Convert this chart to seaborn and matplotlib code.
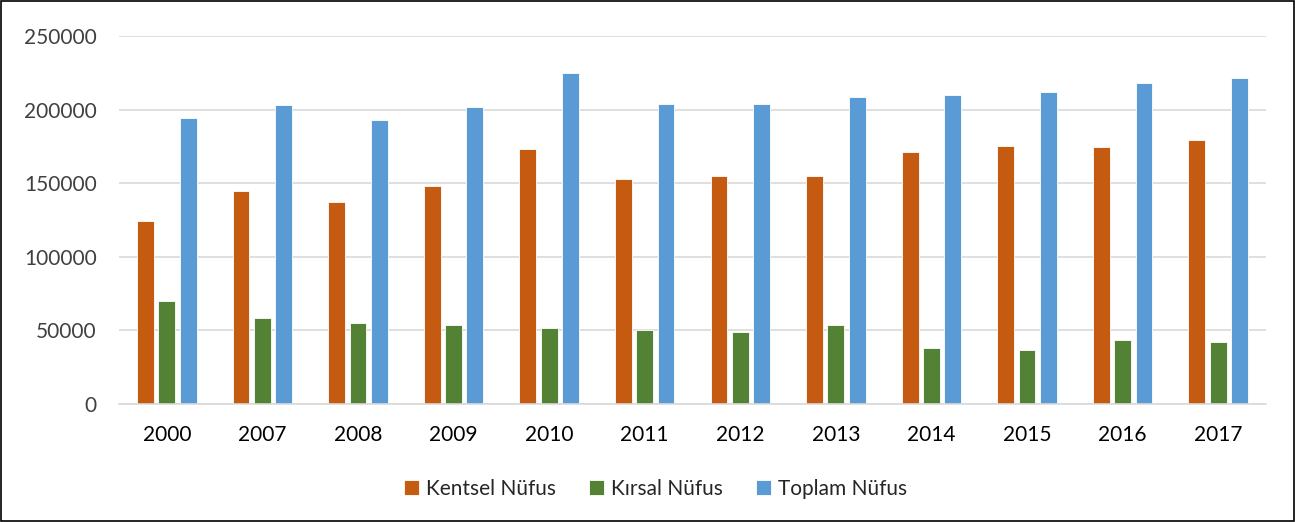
import numpy as np
import pandas as pd
import matplotlib
matplotlib.use("Agg")
import matplotlib.pyplot as plt
from matplotlib.patches import Rectangle
import seaborn as sns

# veriler (grafikten okunmuş yaklaşık değerler)
years = ["2000", "2007", "2008", "2009", "2010", "2011",
         "2012", "2013", "2014", "2015", "2016", "2017"]
kentsel = [124200, 145000, 137300, 148200, 173300, 152700,
           155000, 155000, 171200, 175100, 174600, 179200]
kirsal = [69700, 58600, 55200, 53400, 51800, 50400,
          49100, 53800, 38200, 36900, 43700, 42300]
toplam = [194100, 203400, 193000, 202000, 225100, 203600,
          203800, 208600, 209700, 212200, 218100, 221400]
series_names = ["Kentsel Nüfus", "Kırsal Nüfus", "Toplam Nüfus"]
colors = ["#C55A11", "#548235", "#5B9BD5"]

df = pd.DataFrame({
    "yil": years * 3,
    "deger": kentsel + kirsal + toplam,
    "seri": [s for s in series_names for _ in years],
})

sns.set_theme(style="white")
plt.rcParams["font.family"] = ["Lato", "DejaVu Sans"]

fig = plt.figure(figsize=(12.95, 5.22), dpi=100)
ax = fig.add_axes([0.0919, 0.226, 0.8857, 0.705])

sns.barplot(data=df, x="yil", y="deger", hue="seri", palette=colors,
            saturation=1, width=0.67, gap=0.21, ax=ax,
            edgecolor="white", linewidth=0.6, errorbar=None)

ax.set_ylim(0, 250000)
ax.set_yticks(np.arange(0, 250001, 50000))
ax.set_yticklabels([str(v) for v in range(0, 250001, 50000)])
ax.yaxis.grid(True, color="#D9D9D9", linewidth=1.2)
ax.set_axisbelow(True)
ax.set_xlim(-0.5, len(years) - 0.5)
for side in ["top", "right", "left"]:
    ax.spines[side].set_visible(False)
ax.spines["bottom"].set_color("#D9D9D9")
ax.spines["bottom"].set_linewidth(1.2)
ax.set_xlabel("")
ax.set_ylabel("")
ax.tick_params(axis="both", length=0, labelsize=15, colors="#404040")
ax.tick_params(axis="x", pad=15)
ax.tick_params(axis="y", pad=16)
for lbl in ax.get_xticklabels():
    lbl.set_color("#000000")

ax.legend(loc="center", bbox_to_anchor=(0.468, -0.23), ncol=3, frameon=False,
          fontsize=15, handlelength=0.7, handleheight=0.7, handletextpad=0.35,
          columnspacing=1.6)

# çerçeve
fig.patches.append(Rectangle((0.001, 0.002), 0.998, 0.996, transform=fig.transFigure,
                             fill=False, edgecolor="black", linewidth=1.2))

fig.savefig("out.png", dpi=100)
